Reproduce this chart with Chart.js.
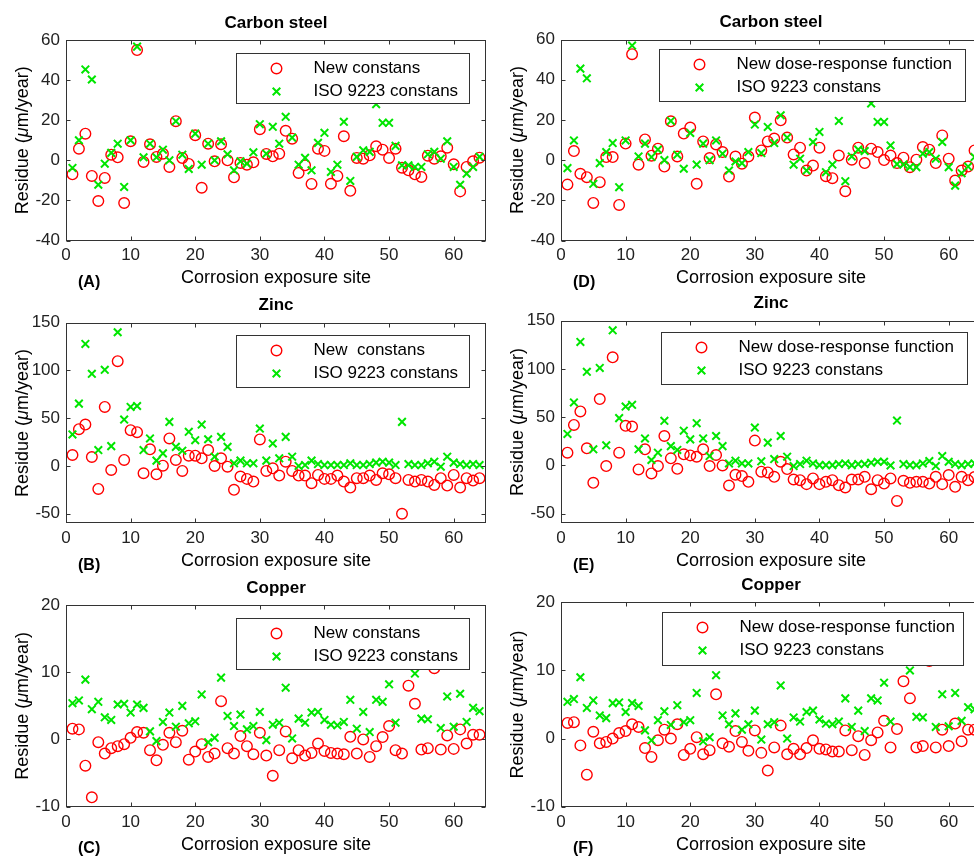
<!DOCTYPE html>
<html>
<head>
<meta charset="utf-8">
<script src="https://cdn.jsdelivr.net/npm/chart.js@4.4.1/dist/chart.umd.min.js"></script>
<style>
  html, body { margin: 0; padding: 0; background: #fff; }
  body { width: 974px; height: 858px; overflow: hidden; position: relative; }
  canvas { position: absolute; }
</style>
</head>
<body>
<canvas id="chartA" width="500" height="290" style="left:0;top:0"></canvas>
<canvas id="chartD" width="500" height="290" style="left:495px;top:0"></canvas>
<canvas id="chartB" width="500" height="285" style="left:0;top:290px"></canvas>
<canvas id="chartE" width="500" height="285" style="left:495px;top:290px"></canvas>
<canvas id="chartC" width="500" height="283" style="left:0;top:575px"></canvas>
<canvas id="chartF" width="500" height="283" style="left:495px;top:575px"></canvas>
<script>
const sites = [1, 2, 3, 4, 5, 6, 7, 8, 9, 10, 11, 12, 13, 14, 15, 16, 17, 18, 19, 20,
  21, 22, 23, 24, 25, 26, 27, 28, 29, 30, 31, 32, 33, 34, 35, 36, 37, 38, 39, 40,
  41, 42, 43, 44, 45, 46, 47, 48, 49, 50, 51, 52, 53, 54, 55, 56, 57, 58, 59, 60,
  61, 62, 63, 64];
const siteTicks = [0, 10, 20, 30, 40, 50, 60];
const steelTicks = [-40, -20, 0, 20, 40, 60];
const zincTicks = [-50, 0, 50, 100, 150];
const copperTicks = [-10, 0, 10, 20];

// (A) carbon steel, new constants vs ISO 9223
const steelNewA = [-7, 5.8, 13.3, -7.8, -20.3, -8.8, 2.8, 1.5, -21.3, 9.5, 55, -0.8, 8, 1.7, 3.3, -3.3,
  19.5, 1.2, -1.8, 12.5, -13.7, 8.3, -0.5, 8, 0, -8.5, -1.3, -2.2, -1, 15.5, 3.2, 2,
  3.3, 14.7, 10.8, -6.3, -2.5, -11.8, 5.8, 4.7, -11.7, -7.8, 12, -15.2, 1.2, 0.8, 2.5, 7,
  5.3, 1.2, 5.8, -3.7, -5, -7, -8.3, 2.3, 0.8, 2, 6.3, -2, -15.5, -3.3, -0.5, 1.3];
const steelIsoA = [-3.8, 10, 45.3, 40.3, -12.2, -1.7, 3.7, 8.3, -13.3, 10, 56.7, 1.5, 8.3, 1.5, 5.3, 0,
  19.5, 2.8, -4.3, 13.3, -2.2, 8.3, 0, 9.5, 3, -5, -0.5, -1.7, 4, 18, 3.3, 16.7,
  8.3, 21.7, 11.3, -2.2, 1.2, -5, 8.7, 13.7, -5.8, -2.2, 19.2, -10.3, 1.7, 5, 4.2, 28,
  18.7, 18.7, 7.2, -2.5, -2.5, -3.3, -3.3, 3, 4.2, 0.8, 9.5, -3.3, -12.2, -6.7, -3.3, 1.7];

// (D) carbon steel, new dose-response function vs ISO 9223
const steelNewD = [-12.2, 4.5, -6.8, -8.5, -21.3, -11, 1.5, 1.5, -22.3, 8.2, 52.7, -2.3, 10.3, 2.2, 5.7, -3.2,
  19.3, 1.8, 13.2, 16.2, -11.8, 9.3, 1, 7.8, 4, -8.2, 1.8, -1.8, 1.8, 21.2, 4.8, 9.3,
  10.7, 19.8, 11.2, 2.8, 6.2, -5.2, -2.7, 6.2, -8, -9, 2.3, -15.5, 0.2, 6.2, -1.5, 5.7,
  4, 0, 2.3, -1.5, 1.2, -3.5, 0.2, 6.5, 5.2, -1.5, 12.3, 0.7, -10.2, -5.2, -3.2, 4.8];
const steelIsoD = [-4, 9.8, 45.5, 40.7, -11.8, -1.5, 4, 8.5, -13.5, 9.8, 57, 1.8, 8.2, 1.5, 5.2, 0,
  19.5, 2.7, -4.3, 13.5, -2.2, 8.2, 0, 9.8, 3.2, -5.2, -0.7, -1.5, 4, 17.7, 3.5, 16.5,
  8.5, 22.3, 11.2, -2.3, 0.7, -5.2, 9, 14, -6, -2.2, 19.5, -10.5, 1.8, 5.2, 4.5, 28.2,
  19, 19, 7.3, -2, -2.2, -3.5, -3.5, 3.2, 4, 0.7, 9, -3.5, -12.7, -6.5, -3.2, 1.5];

// (B) zinc
const zincNewB = [11.5, 38.5, 43.4, 9.4, -24, 61.8, -4.2, 109.7, 6.3, 37.5, 35.4, -7.6, 17.4, -8.7, 0.3, 28.8,
  6.3, -5.2, 10.8, 10.8, 8, 16.7, 0, 8, -0.7, -25, -11, -13.5, -16.3, 27.8, -5.2, -2.4,
  -10, 4.5, -5.2, -10, -10, -18, -9.4, -13.5, -13.5, -10, -16.3, -22.6, -12.8, -12.8, -10, -14.6,
  -7.6, -8.7, -12.8, -50, -14.6, -16.3, -14.6, -16.3, -19.8, -12.8, -20.5, -9.4, -22.6, -12.8, -15.3, -12.8];
const zincIsoB = [33, 65.3, 127.8, 96.5, 16.7, 100.7, 20.8, 140, 48.6, 61.8, 62.8, 16.7, 28.8, 5.6, 13.2, 46.2,
  20, 16, 35.8, 27, 43.4, 28, 9.7, 30.5, 20, 2.8, 5.6, 2.8, 2.8, 39.2, 5.6, 23.6,
  8, 30.5, 9.7, 0, 1, 5.6, 2, 1, 1, 1, 1, 2.8, 1, 1, 2, 3.5,
  4.5, 3.5, 1, 46.2, 2, 1, 1, 2.8, 4.5, -0.7, 9.7, 3.5, 2, 1, 2, 1];

// (E) zinc
const zincNewE = [13.2, 42, 56, 17.7, -18, 68.8, -0.7, 112, 13.2, 41, 40.3, -4.2, 16.7, -8.3, -0.7, 30.5,
  7.3, -3.5, 11.5, 10.4, 9, 16.7, -0.7, 10.8, 0, -20.8, -9.7, -11, -17, 25.7, -6.5, -7.3,
  -11.8, 3.8, -3.8, -14.6, -15.3, -19.4, -13.5, -19.4, -17, -15.3, -20.5, -22.9, -14.6, -14.6, -11.8, -24.7,
  -15.3, -18.8, -13.5, -36.8, -16, -18, -17, -17, -18.8, -11.8, -19.4, -10, -22.2, -11.8, -15.3, -12];
const zincIsoE = [32.6, 65.3, 128, 97, 16.7, 101, 20.8, 140, 49, 61, 62.8, 16.7, 28, 5.6, 13.2, 46.2,
  20, 16, 36, 27, 43.8, 28, 9.7, 30.5, 20, 2, 4.9, 2, 2, 39.2, 4.3, 23.6,
  6.6, 30.5, 9, -0.7, 1.4, 4.9, 2, 0.3, 0.3, 0.3, 1.4, 2, 0.3, 1.4, 1.4, 2.8,
  3.8, 3.8, 0, 46.5, 1.4, 0.3, 0.3, 2, 4.5, -0.7, 9.7, 3.8, 1.4, 0.3, 1.4, 2];

// (C) copper
const copperNewC = [1.6, 1.5, -3.9, -8.6, -0.4, -2.1, -1.3, -1, -0.7, 0.25, 1.1, 1, -1.6, -3.1, -0.8, 1,
  -0.4, 1.3, -3, -1.8, -0.7, -2.6, -2.1, 5.7, -1.3, -2.1, 0.5, -1, -2.2, 1, -2.4, -5.4,
  -1.6, 1.2, -2.8, -1.6, -2.4, -2, -0.6, -1.7, -2, -2.1, -2.2, 0.4, -2.1, 0, -2.6, -1,
  0.35, 2, -1.6, -2.1, 8, 5.3, -1.5, -1.3, 10.6, -1.5, 0.6, -1.4, 1.5, -0.6, 0.7, 0.7];
const copperIsoC = [5.4, 5.8, 8.9, 4.5, 5.6, 3.3, 2.9, 5.2, 5.3, 4, 5.2, 4.7, 1.2, -0.25, 2.6, 4,
  1.9, 5, 2.4, 2.7, 6.7, -0.4, 0.25, 9.2, 3.5, 2, 3.7, 1.5, 2, 4.1, -0.1, 2.2,
  2.5, 7.7, 0.15, 3.1, 2.5, 4, 4.1, 2.9, 2.2, 2.1, 2.6, 5.9, 1.6, 4.1, 1.1, 5.9,
  5.6, 8.2, 2.5, 12, 13, 9.8, 3.1, 3, 12.5, 1.7, 6.4, 1.9, 6.8, 2.6, 4.7, 4.2];

// (F) copper
const copperNewF = [2.3, 2.4, -1, -5.3, 1, -0.7, -0.5, 0, 0.8, 1.1, 2.1, 1.7, -1.4, -2.7, -0.25, 1.3,
  0, 2.1, -2.4, -1.5, 0.2, -2.3, -1.7, 6.5, -0.7, -1.2, 1.1, -0.5, -1.8, 1.2, -2.1, -4.7,
  -1.3, 1.9, -2.3, -1.5, -2.3, -1.4, -0.25, -1.5, -1.6, -1.9, -1.9, 1.2, -1.7, 0.35, -2.4, -0.25,
  0.9, 2.6, -1.3, 1.4, 8.4, 5.9, -1.3, -1.1, 11.4, -1.3, 1.3, -1.1, 2.2, -0.4, 1.3, 1.3];
const copperIsoF = [5.4, 5.8, 9, 4.5, 5.6, 3.4, 3, 5.2, 5.3, 3.9, 5.2, 4.8, 1.2, -0.25, 2.7, 4,
  2, 4.9, 2.4, 2.7, 6.7, -0.4, 0.2, 9.3, 3.4, 2.1, 3.7, 1.3, 2.1, 4.1, -0.15, 2.1,
  2.4, 7.8, 0, 3.1, 2.5, 3.9, 4.1, 2.8, 2.2, 2.1, 2.5, 5.9, 1.7, 4.1, 1.1, 5.9,
  5.6, 8.2, 2.5, 12, 13, 10, 3.2, 3.1, 12.5, 1.7, 6.5, 1.8, 6.7, 2.6, 4.6, 4.3];

const FONT = "'Liberation Sans', Arial, Helvetica, sans-serif";
const RED = "#ff0000";
const GREEN = "#00e600";
const AXIS = "#333333";

function toPoints(values) {
  return values.map((v, i) => ({ x: sites[i], y: v }));
}

function drawMarker(ctx, kind, x, y) {
  ctx.beginPath();
  if (kind === "circle") {
    ctx.strokeStyle = RED;
    ctx.lineWidth = 1.4;
    ctx.arc(x, y, 5.3, 0, Math.PI * 2);
  } else {
    const d = 3.8;
    ctx.strokeStyle = GREEN;
    ctx.lineWidth = 2;
    ctx.moveTo(x - d, y - d); ctx.lineTo(x + d, y + d);
    ctx.moveTo(x + d, y - d); ctx.lineTo(x - d, y + d);
  }
  ctx.stroke();
}

// MATLAB-like box, inward ticks, legend inside the axes and the text labels
const panelPlugin = {
  id: "panel",
  afterDatasetsDraw(chart, args, o) {
    const { ctx, chartArea: a } = chart;
    const xs = chart.scales.x, ys = chart.scales.y;
    const L = Math.round(a.left) + 0.5, R = Math.round(a.right) - 0.5;
    const T = Math.round(a.top) + 0.5, B = Math.round(a.bottom) - 0.5;
    ctx.save();
    ctx.strokeStyle = AXIS;
    ctx.lineWidth = 1;
    ctx.strokeRect(L, T, R - L, B - T);
    ctx.beginPath();
    xs.ticks.forEach(t => {
      const px = Math.round(xs.getPixelForValue(t.value)) + 0.5;
      ctx.moveTo(px, B); ctx.lineTo(px, B - 4);
      ctx.moveTo(px, T); ctx.lineTo(px, T + 4);
    });
    ys.ticks.forEach(t => {
      const py = Math.round(ys.getPixelForValue(t.value)) + 0.5;
      ctx.moveTo(L, py); ctx.lineTo(L + 4, py);
      ctx.moveTo(R, py); ctx.lineTo(R - 4, py);
    });
    ctx.stroke();

    // legend
    const lg = o.legend;
    const bx = Math.round(a.right - lg.right - lg.w) + 0.5;
    const by = Math.round(a.top + lg.top) + 0.5;
    ctx.fillStyle = "#fff";
    ctx.fillRect(bx, by, lg.w, lg.h);
    ctx.strokeStyle = AXIS;
    ctx.strokeRect(bx, by, lg.w, lg.h);
    drawMarker(ctx, "circle", bx + 40, by + 15);
    drawMarker(ctx, "cross", bx + 40, by + 38);
    ctx.fillStyle = "#000";
    ctx.font = "17px " + FONT;
    ctx.textBaseline = "middle";
    ctx.textAlign = "left";
    ctx.fillText(o.newLabel, bx + 77, by + 15);
    ctx.fillText("ISO 9223 constans", bx + 77, by + 38);
    ctx.restore();
  },
  afterDraw(chart, args, o) {
    const { ctx, chartArea: a } = chart;
    const cx = (a.left + a.right) / 2;
    ctx.save();
    ctx.fillStyle = "#000";
    ctx.textBaseline = "middle";
    ctx.textAlign = "center";
    ctx.font = "bold 17px " + FONT;
    ctx.fillText(o.title, cx, a.top - 17);
    ctx.font = "18px " + FONT;
    ctx.fillText("Corrosion exposure site", cx, a.bottom + 38);
    ctx.textAlign = "left";
    ctx.font = "bold 16px " + FONT;
    ctx.fillText(o.letter, 78, a.bottom + 42);

    // y title with italic mu
    const parts = [["Residue (", "18px "], ["\u03bc", "italic 18px "], ["m/year)", "18px "]];
    let total = 0;
    parts.forEach(p => { ctx.font = p[1] + FONT; total += ctx.measureText(p[0]).width; });
    ctx.translate(23, (a.top + a.bottom) / 2);
    ctx.rotate(-Math.PI / 2);
    let x = -total / 2;
    parts.forEach(p => {
      ctx.font = p[1] + FONT;
      ctx.fillText(p[0], x, 0);
      x += ctx.measureText(p[0]).width;
    });
    ctx.restore();
  }
};

function makePanel(id, cfg) {
  const canvas = document.getElementById(id);
  return new Chart(canvas, {
    type: "scatter",
    data: {
      datasets: [
        {
          label: cfg.newLabel,
          data: toPoints(cfg.newValues),
          pointStyle: "circle",
          pointRadius: 5.3,
          pointBorderWidth: 1.4,
          borderColor: RED,
          backgroundColor: "rgba(0,0,0,0)",
          order: 1
        },
        {
          label: "ISO 9223 constans",
          data: toPoints(cfg.isoValues),
          pointStyle: "crossRot",
          pointRadius: 5.4,
          pointBorderWidth: 2,
          borderColor: GREEN,
          backgroundColor: GREEN,
          order: 0
        }
      ]
    },
    options: {
      responsive: false,
      animation: false,
      events: [],
      layout: { padding: { left: 0, right: 14, top: cfg.top, bottom: canvas.height - cfg.bottom - 32 } },
      scales: {
        x: {
          type: "linear",
          min: 0,
          max: 65,
          afterBuildTicks: s => { s.ticks = siteTicks.map(v => ({ value: v })); },
          afterFit: s => { s.height = 32; },
          grid: { display: false, drawTicks: false },
          border: { display: false },
          ticks: { padding: 5, color: "#222", font: { family: FONT, size: 17 }, maxRotation: 0 }
        },
        y: {
          type: "linear",
          min: cfg.yMin,
          max: cfg.yMax,
          afterBuildTicks: s => { s.ticks = cfg.yTicks.map(v => ({ value: v })); },
          afterFit: s => { s.width = 66; },
          grid: { display: false, drawTicks: false },
          border: { display: false },
          ticks: { padding: 6, color: "#222", font: { family: FONT, size: 17 } }
        }
      },
      plugins: {
        legend: { display: false },
        tooltip: { enabled: false },
        panel: {
          title: cfg.title,
          letter: cfg.letter,
          newLabel: cfg.newLabel,
          legend: cfg.legend
        }
      }
    },
    plugins: [panelPlugin]
  });
}

window.addEventListener("DOMContentLoaded", () => {
  makePanel("chartA", {
    title: "Carbon steel", letter: "(A)", newLabel: "New constans",
    newValues: steelNewA, isoValues: steelIsoA,
    yMin: -40, yMax: 60, yTicks: steelTicks, top: 40, bottom: 240.5,
    legend: { right: 17, top: 13, w: 233, h: 50 }
  });
  makePanel("chartD", {
    title: "Carbon steel", letter: "(D)", newLabel: "New dose-response function",
    newValues: steelNewD, isoValues: steelIsoD,
    yMin: -40, yMax: 60, yTicks: steelTicks, top: 39.5, bottom: 240.5,
    legend: { right: 16, top: 9, w: 306, h: 52 }
  });
  makePanel("chartB", {
    title: "Zinc", letter: "(B)", newLabel: "New  constans",
    newValues: zincNewB, isoValues: zincIsoB,
    yMin: -60, yMax: 150, yTicks: zincTicks, top: 32.7, bottom: 233.3,
    legend: { right: 17, top: 12, w: 233, h: 52 }
  });
  makePanel("chartE", {
    title: "Zinc", letter: "(E)", newLabel: "New dose-response function",
    newValues: zincNewE, isoValues: zincIsoE,
    yMin: -60, yMax: 150, yTicks: zincTicks, top: 30.7, bottom: 233.3,
    legend: { right: 14, top: 11, w: 306, h: 52 }
  });
  makePanel("chartC", {
    title: "Copper", letter: "(C)", newLabel: "New constans",
    newValues: copperNewC, isoValues: copperIsoC,
    yMin: -10, yMax: 20, yTicks: copperTicks, top: 30, bottom: 231.7,
    legend: { right: 17, top: 12.7, w: 233, h: 51 }
  });
  makePanel("chartF", {
    title: "Copper", letter: "(F)", newLabel: "New dose-response function",
    newValues: copperNewF, isoValues: copperIsoF,
    yMin: -10, yMax: 20, yTicks: copperTicks, top: 27.3, bottom: 231.7,
    legend: { right: 18, top: 10, w: 301, h: 53 }
  });
});
</script>
</body>
</html>
